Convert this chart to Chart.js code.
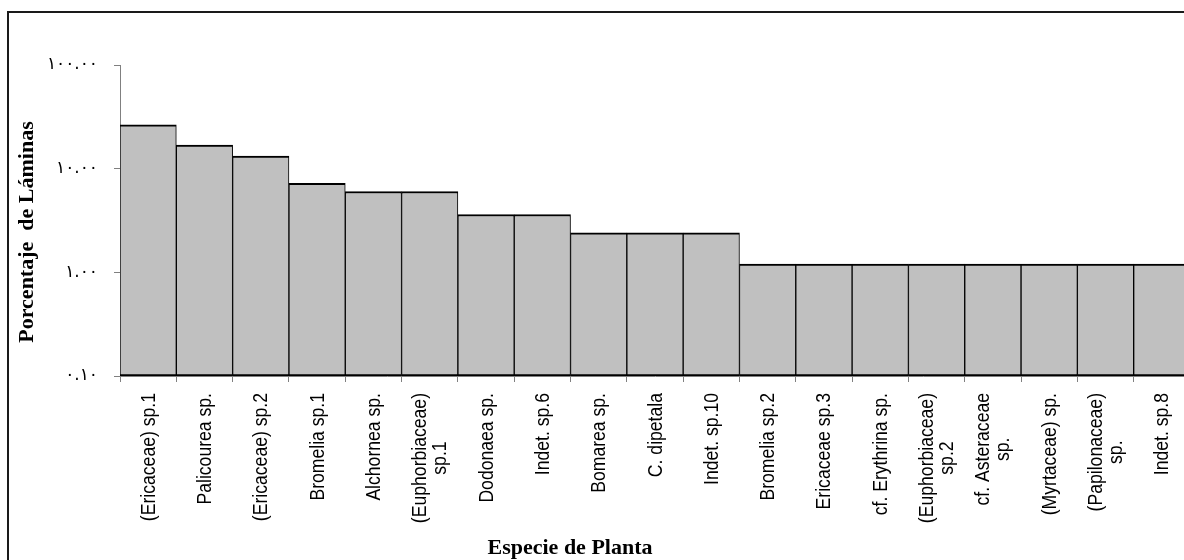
<!DOCTYPE html>
<html>
<head>
<meta charset="utf-8">
<script src="https://cdn.jsdelivr.net/npm/chart.js@4.4.1/dist/chart.umd.min.js"></script>
<style>
  html, body { margin: 0; padding: 0; background: #fff; overflow: hidden; }
  #wrap { width: 1200px; height: 560px; }
</style>
</head>
<body>
<div id="wrap"><canvas id="c" width="1200" height="560"></canvas></div>
<script>
// Plant species (multi-line names are split into lines)
const species = [
  ['(Ericaceae) sp.1'],
  ['Palicourea sp.'],
  ['(Ericaceae) sp.2'],
  ['Bromelia sp.1'],
  ['Alchornea sp.'],
  ['(Euphorbiaceae)', 'sp.1'],
  ['Dodonaea sp.'],
  ['Indet. sp.6'],
  ['Bomarea sp.'],
  ['C. dipetala'],
  ['Indet. sp.10'],
  ['Bromelia sp.2'],
  ['Ericaceae sp.3'],
  ['cf. Erythrina sp.'],
  ['(Euphorbiaceae)', 'sp.2'],
  ['cf. Asteraceae', 'sp.'],
  ['(Myrtaceae) sp.'],
  ['(Papilonaceae)', 'sp.'],
  ['Indet. sp.8']
];

// Percentage of slides per species
const porcentaje = [26.51, 16.87, 13.25, 7.23, 6.02, 6.02, 3.61, 3.61, 2.41, 2.41, 2.41,
                    1.20, 1.20, 1.20, 1.20, 1.20, 1.20, 1.20, 1.20];

// Log axis ticks and their labels
const yTickValues = [0.1, 1, 10, 100];
const yTickLabels = ['٠.١٠', '١.٠٠', '١٠.٠٠', '١٠٠.٠٠'];

const xTitle = 'Especie de Planta';
const yTitle = 'Porcentaje  de Láminas';

// Frame, rotated category names and axis titles
const decorations = {
  id: 'decorations',
  afterDraw(chart) {
    const ctx = chart.ctx;
    const xs = chart.scales.x;
    const area = chart.chartArea;
    ctx.save();

    ctx.strokeStyle = '#1a1a1a';
    ctx.lineWidth = 2;
    ctx.strokeRect(8, 12, chart.width + 40, chart.height + 40);

    ctx.fillStyle = '#000';
    ctx.font = '20px "Liberation Sans", Arial, sans-serif';
    ctx.textBaseline = 'middle';
    ctx.textAlign = 'center';
    species.forEach((lines, i) => {
      const x = xs.getPixelForValue(i);
      const w = Math.max(...lines.map(l => ctx.measureText(l).width));
      ctx.save();
      ctx.translate(x + 1, area.bottom + 17);
      ctx.rotate(-Math.PI / 2);
      ctx.scale(0.88, 1);
      lines.forEach((l, k) => {
        ctx.fillText(l, -w / 2, (k - (lines.length - 1) / 2) * 20);
      });
      ctx.restore();
    });

    ctx.font = 'bold 22px "Liberation Serif", "Times New Roman", serif';
    ctx.textAlign = 'center';
    ctx.textBaseline = 'middle';
    ctx.fillText(xTitle, 570, 548);

    ctx.save();
    ctx.translate(27, 232);
    ctx.rotate(-Math.PI / 2);
    ctx.font = 'bold 22px "Liberation Serif", "Times New Roman", serif';
    ctx.fillText(yTitle, 0, 0);
    ctx.restore();

    ctx.restore();
  }
};

new Chart(document.getElementById('c'), {
  type: 'bar',
  data: {
    labels: species.map(s => s.join(' ')),
    datasets: [{
      data: porcentaje,
      backgroundColor: '#C0C0C0',
      borderColor: '#000',
      borderWidth: { top: 2, left: 1, right: 1, bottom: 2 },
      borderSkipped: false,
      barPercentage: 1,
      categoryPercentage: 1
    }]
  },
  options: {
    responsive: false,
    animation: false,
    devicePixelRatio: 1,
    layout: { padding: { top: 65, right: 10, left: 0, bottom: 0 } },
    plugins: { legend: { display: false }, tooltip: { enabled: false } },
    scales: {
      x: {
        offset: true,
        grid: { offset: true, drawOnChartArea: false, drawTicks: true, tickLength: 6, color: '#808080' },
        border: { display: true, color: '#808080' },
        ticks: { display: false },
        afterFit(s) { s.height = 184; }
      },
      y: {
        type: 'logarithmic',
        min: 0.1,
        max: 100,
        afterBuildTicks(s) { s.ticks = yTickValues.map(v => ({ value: v })); },
        grid: { drawOnChartArea: false, drawTicks: true, tickLength: 6, color: '#808080' },
        border: { display: true, color: '#808080' },
        ticks: {
          color: '#000',
          padding: 16,
          font: { family: '"DejaVu Sans", sans-serif', size: 17 },
          callback: (v, i) => yTickLabels[i]
        },
        afterFit(s) { s.width = 120; }
      }
    }
  },
  plugins: [decorations]
});
</script>
</body>
</html>
